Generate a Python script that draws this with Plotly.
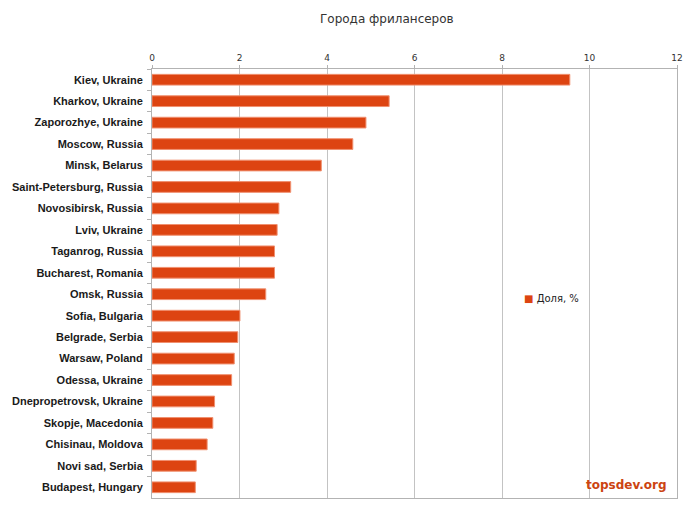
import plotly.graph_objects as go

cities = ["Kiev, Ukraine", "Kharkov, Ukraine", "Zaporozhye, Ukraine", "Moscow, Russia",
          "Minsk, Belarus", "Saint-Petersburg, Russia", "Novosibirsk, Russia", "Lviv, Ukraine",
          "Taganrog, Russia", "Bucharest, Romania", "Omsk, Russia", "Sofia, Bulgaria",
          "Belgrade, Serbia", "Warsaw, Poland", "Odessa, Ukraine", "Dnepropetrovsk, Ukraine",
          "Skopje, Macedonia", "Chisinau, Moldova", "Novi sad, Serbia", "Budapest, Hungary"]
share = [9.55, 5.42, 4.89, 4.59, 3.87, 3.17, 2.90, 2.86, 2.80, 2.80, 2.60, 2.01,
         1.96, 1.88, 1.82, 1.43, 1.39, 1.26, 1.01, 0.99]
x_ticks = [0, 2, 4, 6, 8, 10, 12]
series_name = "Доля, %"
title_text = "Города фрилансеров"
watermark = "topsdev.org"

BAR_COLOR = "#DD4411"

fig = go.Figure()
fig.add_trace(go.Bar(
    y=cities, x=share, orientation="h", name=series_name,
    marker=dict(color=BAR_COLOR, line=dict(color="#F09070", width=1)),
    width=0.5, showlegend=False,
))

# page body has an 8px default margin, so the figure is sized to fit the window
W, H = 688, 509
L, R, T, B = 144, 19, 61, 19
PW = W - L - R

fig.update_layout(
    width=W, height=H,
    margin=dict(l=L, r=R, t=T, b=B, autoexpand=False),
    plot_bgcolor="white", paper_bgcolor="white",
    font=dict(family="DejaVu Sans", size=10, color="#333333"),
    showlegend=False,
    xaxis=dict(side="top", range=[0, 12], tickvals=x_ticks, ticks="outside", ticklen=3,
               tickcolor="#b3b3b3", showgrid=True, gridcolor="#c3c3c3", gridwidth=1,
               showline=True, linecolor="#b3b3b3", mirror=True, zeroline=False,
               automargin=False,
               tickfont=dict(family="DejaVu Sans", size=9, color="#333333")),
    yaxis=dict(autorange="reversed", type="category", ticks="outside", ticklen=4,
               tickson="boundaries", tickcolor="#b3b3b3", showgrid=False,
               ticklabelstandoff=6, automargin=False,
               showline=True, linecolor="#b3b3b3", mirror=True,
               tickfont=dict(family="Liberation Sans", size=11, color="#1a1a1a", weight="bold")),
    annotations=[
        dict(text=title_text, xref="paper", yref="paper", x=(379 - L) / PW, y=1,
             yshift=T - 11, xanchor="center", yanchor="middle", showarrow=False,
             font=dict(family="DejaVu Sans", size=12, color="#333333")),
        dict(text="<span style='color:%s'>■</span> %s" % (BAR_COLOR, series_name),
             xref="paper", yref="paper", x=(514 - L) / PW, y=0.464,
             xanchor="left", yanchor="middle", showarrow=False,
             font=dict(family="DejaVu Sans", size=10, color="#222222")),
        dict(text="<b>" + watermark + "</b>", xref="paper", yref="paper", x=0.985, y=0.01,
             xanchor="right", yanchor="bottom", showarrow=False,
             font=dict(family="DejaVu Sans", size=12, color="#CC4411")),
    ],
)

fig.write_html("out.html")
